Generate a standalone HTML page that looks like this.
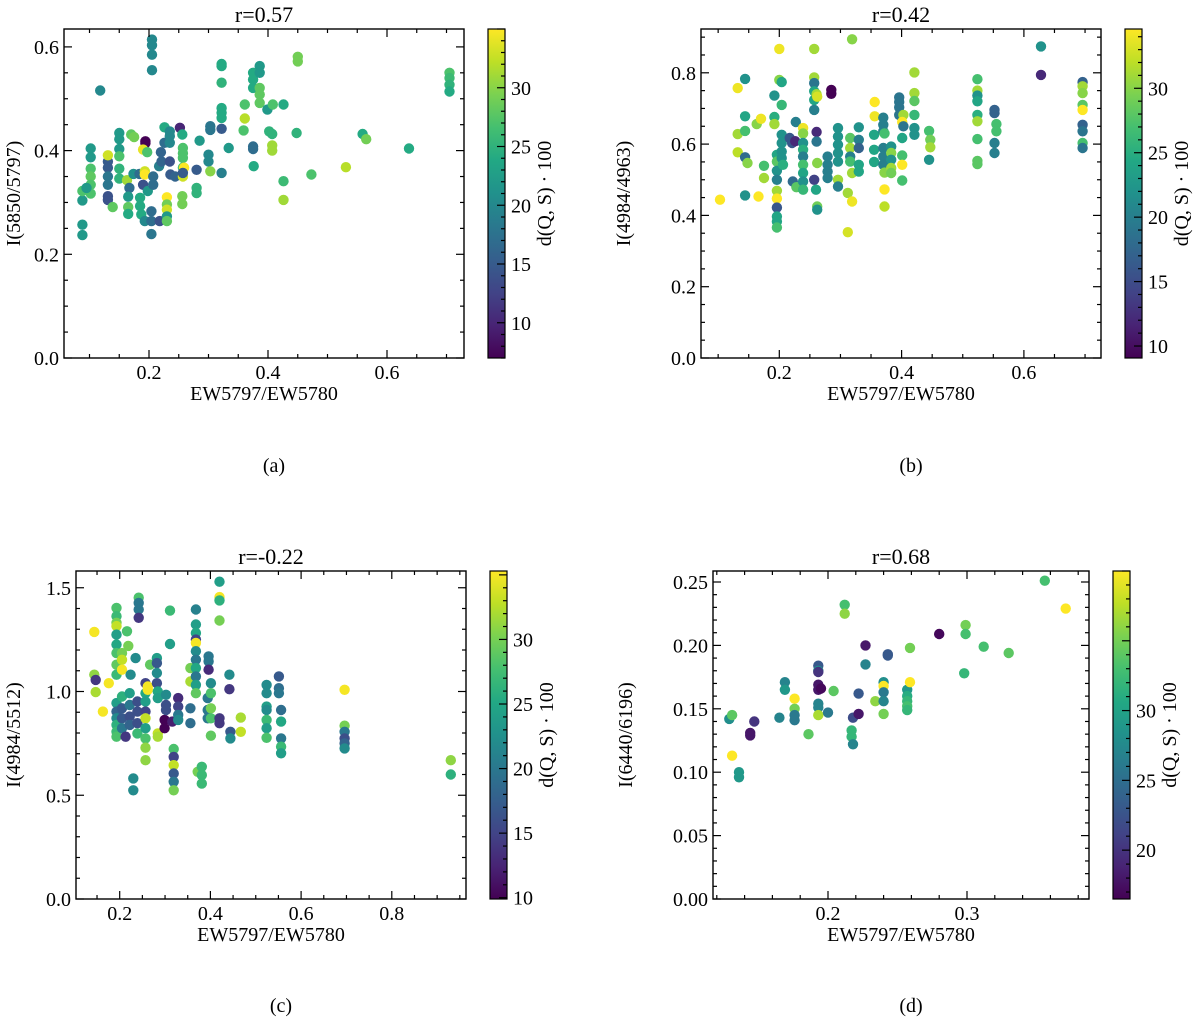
<!DOCTYPE html>
<html><head><meta charset="utf-8"><style>
html,body{margin:0;padding:0;background:#fff;}
svg{display:block;font-family:"Liberation Serif",serif;}
</style></head><body>
<svg id="fig" width="1200" height="1023" viewBox="0 0 1200 1023" xmlns="http://www.w3.org/2000/svg"></svg>
<script>
// ---------- Panel (a) data ----------
const aX=[.205,.205,.205,.205,.118,.088,.088,.088,.088,.102,.102,.102,.102,.102,.102,.095,.131,.131,.131,.131,.131,.131,.131,.139,.150,.150,.150,.150,.150,.150,.163,.167,.165,.165,.165,.170,.175,.194,.194,.190,.197,.174,.184,.193,.193,.190,.185,.185,.187,.193,.204,.204,.204,.198,.207,.207,.217,.221,.220,.218,.226,.226,.230,.230,.230,.230,.230,.235,.235,.235,.235,.236,.244,.252,.256,.257,.257,.257,.257,.257,.259,.257,.256,.256,.280,.285,.280,.280,.300,.300,.303,.303,.303,.322,.322,.322,.322,.322,.322,.322,.322,.334,.361,.361,.359,.375,.375,.375,.375,.375,.376,.386,.386,.386,.386,.386,.399,.402,.407,.407,.407,.408,.426,.426,.426,.450,.450,.448,.473,.531,.559,.565,.637,.705,.705,.705,.705];
const aY=[.614,.603,.585,.555,.516,.304,.257,.237,.322,.404,.387,.365,.350,.334,.317,.328,.379,.367,.350,.334,.312,.305,.391,.291,.434,.422,.403,.389,.365,.346,.343,.328,.311,.291,.278,.431,.426,.418,.414,.402,.397,.355,.355,.360,.354,.334,.309,.293,.277,.264,.264,.239,.283,.322,.350,.334,.370,.379,.397,.264,.415,.445,.310,.296,.286,.273,.264,.437,.428,.415,.379,.354,.350,.444,.431,.405,.395,.386,.367,.350,.367,.357,.312,.297,.363,.419,.328,.318,.392,.379,.360,.440,.447,.357,.442,.567,.563,.531,.482,.473,.463,.405,.489,.462,.439,.550,.537,.521,.408,.403,.370,.563,.550,.521,.508,.492,.479,.437,.432,.410,.400,.489,.489,.341,.305,.581,.572,.434,.354,.368,.432,.422,.404,.550,.540,.527,.514];
const aC=[20,20,20,20,20,22,22,22,27,22,22,27,28,27,27,22,15,15,18,18,14,14,33,28,22,22,22,27,25,25,31,17,22,28,24,28,29,7,7,34,27,21,17,33,35,14,24,24,24,20,17,18,17,22,17,17,19,16,16,14,17,24,35,29,33,22,28,20,20,20,14,15,16,10,24,27,27,27,27,33,35,15,29,29,15,22,25,25,20,20,30,18,18,19,15,24,24,25,24,24,24,22,27,32,27,24,24,24,17,17,24,22,22,28,28,28,22,25,25,31,31,27,24,26,31,29,29,25,27,32,24,29,24,27,26,25,24];
// ---------- Panel (b) data ----------
const bX=[.103,.132,.132,.132,.144,.144,.144,.144,.144,.148,.163,.170,.166,.175,.175,.192,.192,.192,.196,.196,.196,.196,.196,.196,.196,.196,.196,.196,.200,.200,.204,.204,.204,.204,.204,.204,.206,.217,.221,.227,.226,.222,.228,.239,.239,.239,.239,.239,.239,.239,.239,.239,.257,.257,.257,.257,.257,.257,.261,.262,.257,.260,.262,.262,.262,.261,.261,.285,.285,.279,.279,.279,.279,.296,.296,.296,.296,.296,.296,.296,.312,.316,.316,.316,.316,.319,.319,.319,.312,.330,.330,.330,.330,.330,.356,.356,.355,.355,.355,.370,.370,.370,.370,.370,.370,.372,.372,.372,.372,.383,.383,.383,.383,.383,.396,.396,.396,.396,.403,.401,.403,.401,.401,.401,.401,.421,.421,.421,.421,.421,.421,.445,.447,.447,.445,.524,.524,.524,.524,.524,.524,.524,.524,.524,.552,.552,.555,.555,.552,.552,.628,.628,.696,.696,.696,.696,.696,.696,.696,.696,.696];
const bY=[.444,.757,.628,.577,.783,.678,.637,.563,.456,.547,.656,.671,.453,.539,.505,.736,.676,.656,.570,.551,.525,.500,.469,.447,.422,.397,.383,.366,.867,.780,.774,.710,.626,.603,.579,.561,.542,.617,.603,.662,.608,.495,.479,.645,.630,.603,.584,.565,.542,.519,.495,.472,.867,.787,.771,.748,.724,.696,.740,.733,.500,.472,.547,.425,.416,.634,.607,.752,.741,.565,.542,.523,.505,.645,.621,.598,.575,.551,.500,.481,.463,.617,.589,.565,.551,.519,.894,.439,.353,.647,.612,.589,.542,.523,.718,.678,.626,.584,.550,.674,.654,.636,.589,.565,.542,.630,.520,.473,.425,.593,.575,.556,.533,.519,.731,.718,.703,.682,.682,.662,.650,.617,.568,.542,.498,.801,.743,.721,.682,.645,.626,.637,.612,.591,.556,.782,.750,.736,.720,.682,.664,.614,.553,.544,.696,.687,.656,.636,.603,.575,.874,.794,.774,.762,.743,.710,.696,.654,.636,.603,.589];
const bC=[35,34,31,32,22,24,27,18,22,30,30,34,35,27,31,22,25,31,24,28,22,20,31,35,16,24,24,27,34,30,24,26,22,22,22,22,25,16,16,20,12,18,28,34,30,22,25,20,27,24,22,26,31,31,19,24,24,20,31,33,14,24,30,29,22,12,19,9,9,20,20,20,20,22,22,22,22,22,31,20,31,28,31,20,27,31,30,34,33,22,20,17,24,24,35,34,24,24,24,20,20,20,20,20,20,27,30,35,32,22,30,22,31,29,19,19,19,19,31,35,19,24,27,35,27,31,31,28,26,22,22,27,29,31,22,27,31,22,24,25,31,27,28,28,17,17,27,27,20,20,22,12,17,31,30,28,35,17,19,27,19];
// ---------- Panel (c) data ----------
const cX=[.144,.144,.147,.147,.163,.176,.193,.193,.193,.193,.193,.193,.193,.193,.193,.193,.193,.193,.193,.193,.193,.205,.205,.205,.205,.205,.205,.205,.213,.216,.219,.224,.222,.222,.222,.222,.230,.230,.235,.239,.239,.239,.239,.242,.242,.242,.242,.257,.257,.257,.257,.257,.257,.257,.257,.257,.262,.262,.267,.282,.282,.282,.282,.284,.284,.284,.284,.299,.299,.302,.302,.302,.311,.311,.316,.319,.319,.319,.319,.319,.319,.329,.329,.329,.329,.356,.356,.356,.356,.368,.368,.368,.368,.368,.368,.368,.368,.368,.368,.368,.372,.381,.381,.381,.394,.394,.394,.396,.396,.396,.401,.401,.401,.401,.401,.420,.420,.420,.420,.420,.420,.442,.442,.444,.444,.467,.467,.524,.524,.524,.524,.524,.524,.524,.551,.551,.551,.556,.556,.556,.556,.556,.696,.696,.696,.696,.696,.696,.930,.930];
const cY=[1.287,1.081,1.056,.997,.903,1.04,1.403,1.363,1.331,1.315,1.274,1.226,1.185,1.129,1.081,.944,.903,.871,.839,.806,.782,1.185,1.153,1.105,.976,.919,.871,.823,.782,1.29,1.22,1.081,.992,.935,.879,.839,.581,.524,1.161,.952,.903,.847,.798,1.452,1.427,1.395,1.355,1.04,.992,.952,.903,.871,.823,.774,.729,.669,1.024,1.008,1.129,1.161,1.137,1.089,1.04,1.0,.968,.798,.782,.863,.823,.984,.935,.911,1.39,1.229,.855,.723,.685,.645,.605,.565,.524,.968,.927,.887,.863,1.113,1.048,.919,.847,1.395,1.323,1.282,1.25,1.234,1.194,1.153,1.113,1.073,1.032,.992,.613,.637,.597,.556,.968,.911,.871,1.169,1.145,1.105,1.04,.992,.919,.871,.787,1.529,1.455,1.439,1.342,.871,.847,1.081,1.011,.806,.774,.874,.806,1.032,.992,.927,.911,.863,.823,.777,1.073,1.016,.992,.911,.855,.774,.734,.702,1.008,.835,.806,.774,.75,.726,.669,.6];
const cC=[35,31,14,32,35,35,28,27,30,33,24,25,28,29,27,24,18,22,26,27,28,30,33,35,26,17,17,20,14,28,30,22,24,20,16,18,22,22,22,16,16,16,27,28,20,20,14,15,25,24,15,33,24,28,31,31,35,35,29,24,17,22,16,25,24,33,32,10,10,22,16,16,27,24,12,28,15,33,17,20,30,13,15,20,22,30,32,19,19,21,24,25,15,35,22,20,25,20,24,29,30,27,27,27,20,20,20,20,20,13,22,28,30,28,29,24,35,26,30,14,14,22,14,17,22,32,33,22,22,24,22,27,24,28,17,19,20,19,25,20,27,24,35,30,20,16,18,22,31,26];
// ---------- Panel (d) data ----------
const dX=[.129,.131,.131,.136,.136,.144,.144,.147,.165,.169,.169,.176,.176,.176,.176,.186,.193,.193,.193,.193,.193,.195,.193,.193,.193,.200,.204,.212,.212,.217,.217,.218,.218,.222,.222,.227,.227,.234,.240,.240,.240,.240,.240,.243,.243,.257,.257,.257,.257,.257,.259,.259,.280,.298,.299,.299,.312,.330,.356,.371];
const dY=[.142,.145,.113,.100,.096,.131,.129,.140,.143,.171,.165,.158,.150,.145,.141,.130,.184,.180,.179,.169,.165,.166,.154,.151,.145,.147,.164,.232,.225,.133,.128,.122,.143,.162,.146,.200,.185,.156,.171,.168,.163,.156,.146,.193,.192,.165,.160,.156,.152,.149,.198,.171,.209,.178,.216,.209,.199,.194,.251,.229];
const dC=[28,34,40,29,29,18,18,20,27,27,29,40,35,26,26,34,23,28,20,18,18,17,27,27,37,26,34,33,36,32,32,27,22,23,18,18,27,36,28,40,26,27,35,23,23,29,31,32,33,32,35,40,17,32,35,33,33,34,33,40];

// ---------- Tick label arrays ----------
const aXTicks=[0.2,0.4,0.6], aYTicks=[0.0,0.2,0.4,0.6], aCTicks=[10,15,20,25,30];
const bXTicks=[0.2,0.4,0.6], bYTicks=[0.0,0.2,0.4,0.6,0.8], bCTicks=[10,15,20,25,30];
const cXTicks=[0.2,0.4,0.6,0.8], cYTicks=[0.0,0.5,1.0,1.5], cCTicks=[10,15,20,25,30];
const dXTicks=[0.2,0.3], dYTicks=[0.00,0.05,0.10,0.15,0.20,0.25], dCTicks=[20,25,30];

const NS="http://www.w3.org/2000/svg";
const svg=document.getElementById('fig');
function mk(tag,attrs,parent){const e=document.createElementNS(NS,tag);for(const k in attrs)e.setAttribute(k,attrs[k]);(parent||svg).appendChild(e);return e;}
const VIR=["#440154","#482475","#414487","#355f8d","#2a788e","#21918c","#22a884","#44bf70","#7ad151","#bddf26","#fde725"];
function hex(h){return [parseInt(h.substr(1,2),16),parseInt(h.substr(3,2),16),parseInt(h.substr(5,2),16)];}
function viridis(t){t=Math.max(0,Math.min(1,t));const s=t*10,i=Math.min(9,Math.floor(s)),f=s-i;const a=hex(VIR[i]),b=hex(VIR[i+1]);return "rgb("+a.map((v,k)=>Math.round(v+(b[k]-v)*f)).join(",")+")";}

function panel(p){
  const g=mk('g',{});
  
  
  const {L,R,T,B}=p;
  const sx=v=>L+(v-p.x0)/(p.x1-p.x0)*(R-L);
  const sy=v=>B-(v-p.y0)/(p.y1-p.y0)*(B-T);
  const sc=v=>B-(v-p.c0)/(p.c1-p.c0)*(B-T);
  // points
  const pg=mk('g',{},g);
  
  
  for(let i=0;i<p.X.length;i++){
    const c=mk('circle',{cx:sx(p.X[i]).toFixed(1),cy:sy(p.Y[i]).toFixed(1),r:5.2,fill:viridis((p.C[i]-p.c0)/(p.c1-p.c0))},pg);
    
    
  }
  // frame
  const fr=mk('rect',{x:L,y:T,width:R-L,height:B-T,fill:'none',stroke:'#000','stroke-width':1.4},g);
  
  
  // ticks
  const tg=mk('g',{stroke:'#000','stroke-width':1.2},g);
  
  
  const eps=1e-9;
  for(let v=Math.ceil(p.x0/p.xm-eps)*p.xm;v<=p.x1+eps;v+=p.xm){
    const x=sx(v),maj=Math.abs(v/p.xM-Math.round(v/p.xM))<1e-6,len=maj?8:4;
    mk('line',{x1:x,x2:x,y1:B,y2:B-len},tg);mk('line',{x1:x,x2:x,y1:T,y2:T+len},tg);
  }
  for(let v=Math.ceil(p.y0/p.ym-eps)*p.ym;v<=p.y1+eps;v+=p.ym){
    const y=sy(v),maj=Math.abs(v/p.yM-Math.round(v/p.yM))<1e-6,len=maj?8:4;
    mk('line',{x1:L,x2:L+len,y1:y,y2:y},tg);mk('line',{x1:R,x2:R-len,y1:y,y2:y},tg);
  }
  // tick labels
  p.xt.forEach(v=>{const t=mk('text',{x:sx(v),y:B+21,'text-anchor':'middle','font-size':20},g);t.textContent=v.toFixed(p.xd);
    });
  p.yt.forEach(v=>{const t=mk('text',{x:L-5,y:sy(v)+7,'text-anchor':'end','font-size':20},g);t.textContent=v.toFixed(p.yd);
    });
  // labels
  const xl=mk('text',{x:(L+R)/2,y:B+42,'text-anchor':'middle','font-size':20},g);xl.textContent='EW5797/EW5780';
  
  const yx=p.ylx;
  const yl=mk('text',{x:yx,y:(T+B)/2,'text-anchor':'middle','font-size':20,transform:`rotate(-90 ${yx} ${(T+B)/2})`},g);yl.textContent=p.ylab;
  
  const ti=mk('text',{x:(L+R)/2,y:T-7,'text-anchor':'middle','font-size':22},g);ti.textContent=p.title;
  
  const pl=mk('text',{x:(L+R)/2+10,y:p.capY,'text-anchor':'middle','font-size':20},g);pl.textContent=p.cap;
  
  // colorbar
  const cbL=R+24,cbW=17;
  const defs=mk('defs',{},g);
  const gid='grad'+p.id;
  const lg=mk('linearGradient',{id:gid,x1:0,y1:1,x2:0,y2:0},defs);
  VIR.forEach((c,i)=>mk('stop',{offset:(i*10)+'%','stop-color':c},lg));
  const cb=mk('rect',{x:cbL,y:T,width:cbW,height:B-T,fill:`url(#${gid})`,stroke:'#000','stroke-width':1.2},g);
  
  for(let v=Math.ceil(p.c0);v<=p.c1;v++){
    const y=sc(v),maj=v%5===0;
    mk('line',{x1:cbL+cbW,x2:cbL+cbW-(maj?8:4),y1:y,y2:y,stroke:'#000','stroke-width':1.2},g);
  }
  p.ct.forEach(v=>{const t=mk('text',{x:cbL+cbW+6,y:sc(v)+7,'font-size':20},g);t.textContent=v;
    });
  const cx=cbL+cbW+46;
  const cl=mk('text',{x:cx,y:(T+B)/2,'text-anchor':'middle','font-size':20,transform:`rotate(-90 ${cx} ${(T+B)/2})`},g);cl.textContent='d(Q, S) · 100';
  
}

panel({id:'a',L:64,R:464,T:29,B:358,x0:(64-30)/595,x1:(464-30)/595,y0:0,y1:329/518.5,xm:.05,xM:.2,ym:.05,yM:.2,
  X:aX,Y:aY,C:aC,c0:7.0,c1:35.0,xt:aXTicks,yt:aYTicks,ct:aCTicks,xd:1,yd:1,ylab:'I(5850/5797)',ylx:20,title:'r=0.57',cap:'(a)',capY:472});
panel({id:'b',L:701,R:1101,T:29,B:358,x0:(701-657)/611.5,x1:(1101-657)/611.5,y0:0,y1:329/356.5,xm:.05,xM:.2,ym:.05,yM:.2,
  X:bX,Y:bY,C:bC,c0:9.07,c1:34.6,xt:bXTicks,yt:bYTicks,ct:bCTicks,xd:1,yd:1,ylab:'I(4984/4963)',ylx:630,title:'r=0.42',cap:'(b)',capY:472});
panel({id:'c',L:76,R:466,T:571,B:899,x0:(76-29)/453.5,x1:(466-29)/453.5,y0:0,y1:328/207.5,xm:.05,xM:.2,ym:.1,yM:.5,
  X:cX,Y:cY,C:cC,c0:9.9,c1:35.3,xt:cXTicks,yt:cYTicks,ct:cCTicks,xd:1,yd:1,ylab:'I(4984/5512)',ylx:20,title:'r=-0.22',cap:'(c)',capY:1012});
panel({id:'d',L:713,R:1089,T:571,B:899,x0:(713-550)/1390,x1:(1089-550)/1390,y0:0,y1:328/1268,xm:.02,xM:.1,ym:.01,yM:.05,
  X:dX,Y:dY,C:dC,c0:16.5,c1:40,xt:dXTicks,yt:dYTicks,ct:dCTicks,xd:1,yd:2,ylab:'I(6440/6196)',ylx:632,title:'r=0.68',cap:'(d)',capY:1012});
</script>
</body></html>
